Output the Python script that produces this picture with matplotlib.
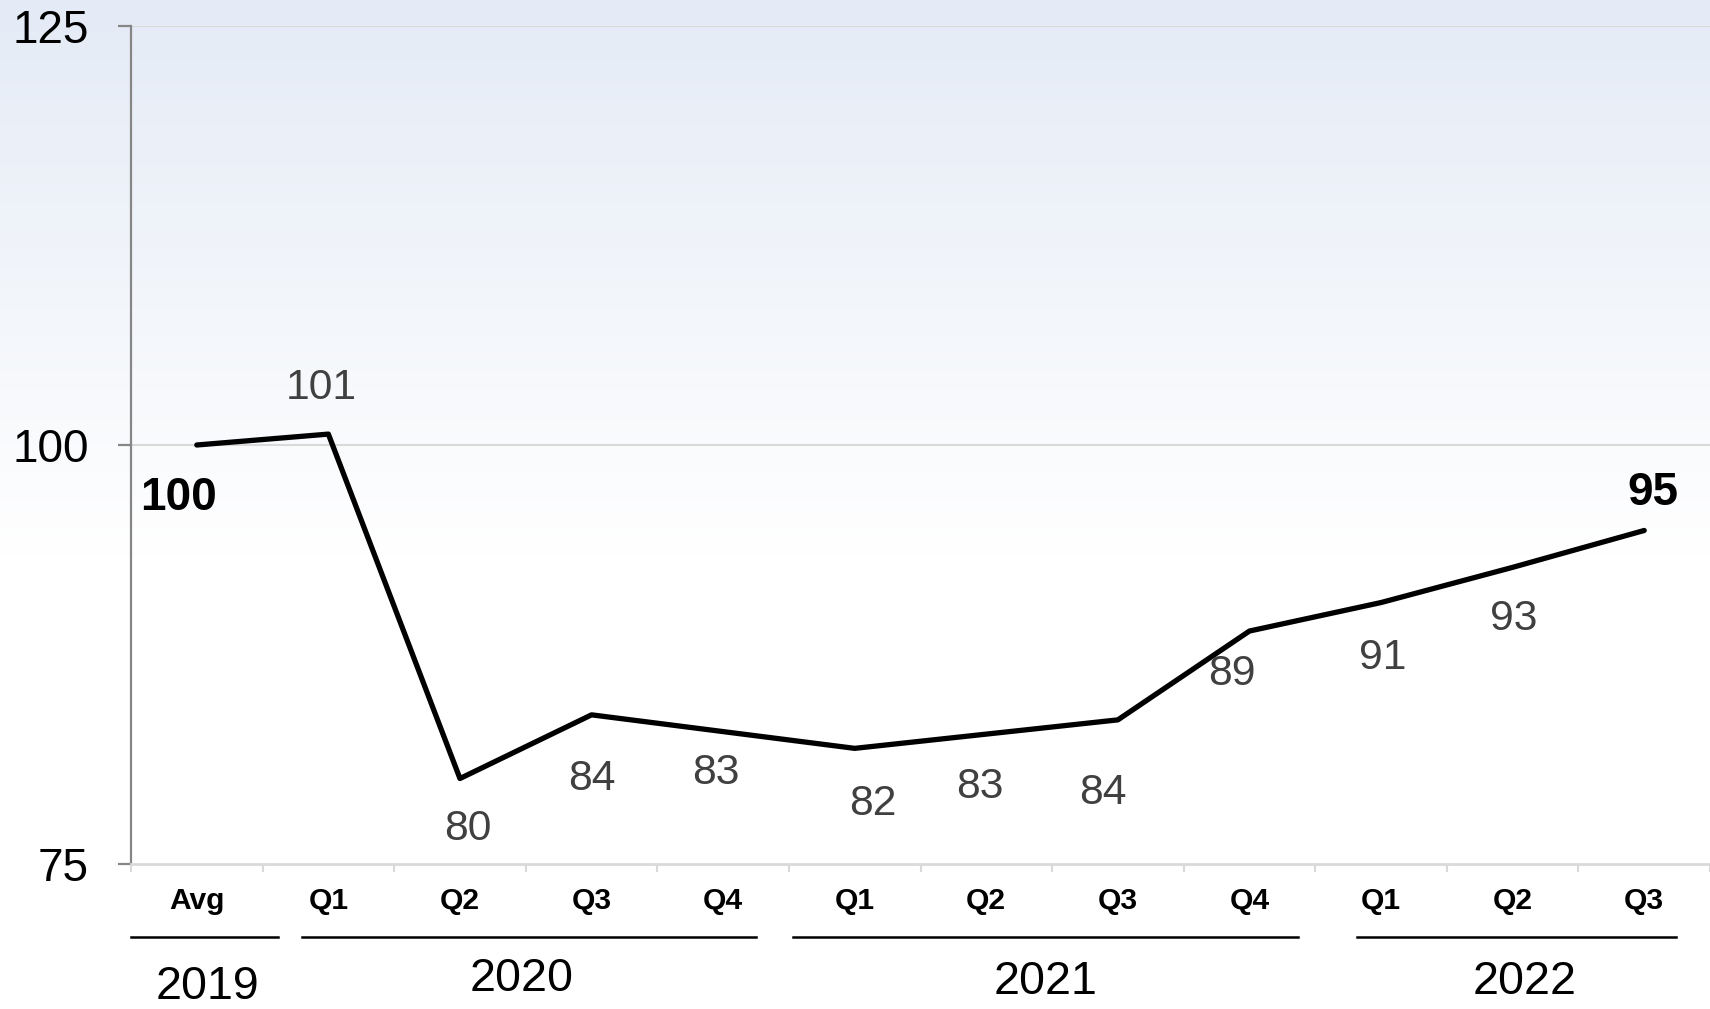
import numpy as np
import matplotlib
matplotlib.use("Agg")
import matplotlib.pyplot as plt
from matplotlib import font_manager as fm
import matplotlib.transforms as mtransforms

# ---- data ----
quarters = ["Avg", "Q1", "Q2", "Q3", "Q4", "Q1", "Q2", "Q3", "Q4", "Q1", "Q2", "Q3"]
values = [100.0, 100.65, 80.1, 83.9, 82.9, 81.9, 82.75, 83.6, 88.9, 90.6, 92.7, 94.9]
years = ["2019", "2020", "2021", "2022"]
yticks = [75, 100, 125]

names = {f.name for f in fm.fontManager.ttflist}
NARROW = "Liberation Sans Narrow" if "Liberation Sans Narrow" in names else "Liberation Sans"
REG = "Liberation Sans"
nscale = 1.0 if NARROW == "Liberation Sans Narrow" else 0.96

W, H = 1710, 1009
fig = plt.figure(figsize=(W / 100, H / 100), dpi=100)

# background gradient
bg = fig.add_axes([0, 0, 1, 1], zorder=-10)
grad = np.linspace(0, 1, 256)
c_top = np.array([228, 235, 246]) / 255.0
c_bot = np.array([1.0, 1.0, 1.0])
t = np.clip(grad / 0.55, 0, 1)[:, None]
img = (c_top * (1 - t) + c_bot * t)[:, None, :]
bg.imshow(img, aspect="auto", extent=[0, 1, 0, 1], origin="upper")
bg.axis("off")

ax = fig.add_axes([131 / W, 1 - 864 / H, 1 - 131 / W, (864 - 26) / H])
ax.patch.set_alpha(0)
x = np.arange(len(values))
ax.plot(x, values, color="black", lw=3.8, solid_capstyle="round", zorder=5)

ax.set_xlim(-0.5, len(values) - 0.5)
ax.set_ylim(75, 125)

# spines
for s in ["top", "right"]:
    ax.spines[s].set_visible(False)
ax.spines["left"].set_color("#868686")
ax.spines["left"].set_linewidth(1.6)
ax.spines["bottom"].set_color("#d9d9d9")
ax.spines["bottom"].set_linewidth(2.0)

ax.set_yticks(yticks)
ax.set_yticklabels([str(v) for v in yticks], fontfamily=REG, fontsize=33)
ax.tick_params(axis="y", length=9.5, width=1.6, color="#868686", pad=21)
for v in [100, 125]:
    ax.axhline(v, color="#d9d9d9", lw=1.5, zorder=1)

ax.set_xticks(np.arange(-0.5, len(values), 1.0))
ax.set_xticklabels([])
ax.tick_params(axis="x", length=6, width=1.5, color="#d9d9d9")

blend = mtransforms.blended_transform_factory(ax.transData, ax.transAxes)
for i, q in enumerate(quarters):
    ax.text(i, -0.044, q, transform=blend, ha="center", va="center",
            fontfamily=NARROW, fontweight="bold", fontsize=22.5 * nscale, color="black")

# year underlines and labels
spans = [(-0.5, 0.62), (0.80, 4.25), (4.53, 8.37), (8.82, 11.24)]
ypos = [-0.147, -0.137, -0.141, -0.141]
ycent = [0.08, 2.47, 6.45, 10.09]
for (a, b), yl, yc, yr in zip(spans, ypos, ycent, years):
    ax.plot([a, b], [-0.087, -0.087], transform=blend, color="black", lw=1.8,
            clip_on=False)
    ax.text(yc, yl, yr, transform=blend, ha="center", va="center",
            fontfamily=NARROW, fontsize=35 * nscale, color="black")

# data labels
offsets = [(-13, -38), (-5, 33), (6, -36), (0, -46), (-5, -30), (13, -40),
           (-5, -38), (-11, -53), (-13, -31), (1, -40), (1, -37), (6, 27)]
for i, (v, off) in enumerate(zip(values, offsets)):
    lab = str(int(round(v)))
    bold = i in (0, len(values) - 1)
    ax.annotate(lab, (i, v), xytext=off, textcoords="offset points",
                ha="center", va="center",
                fontfamily=REG if bold else NARROW,
                fontweight="bold" if bold else "normal",
                fontsize=33 if bold else 32 * nscale,
                color="black" if bold else "#404040", zorder=6)

fig.savefig("out.png", dpi=100)
